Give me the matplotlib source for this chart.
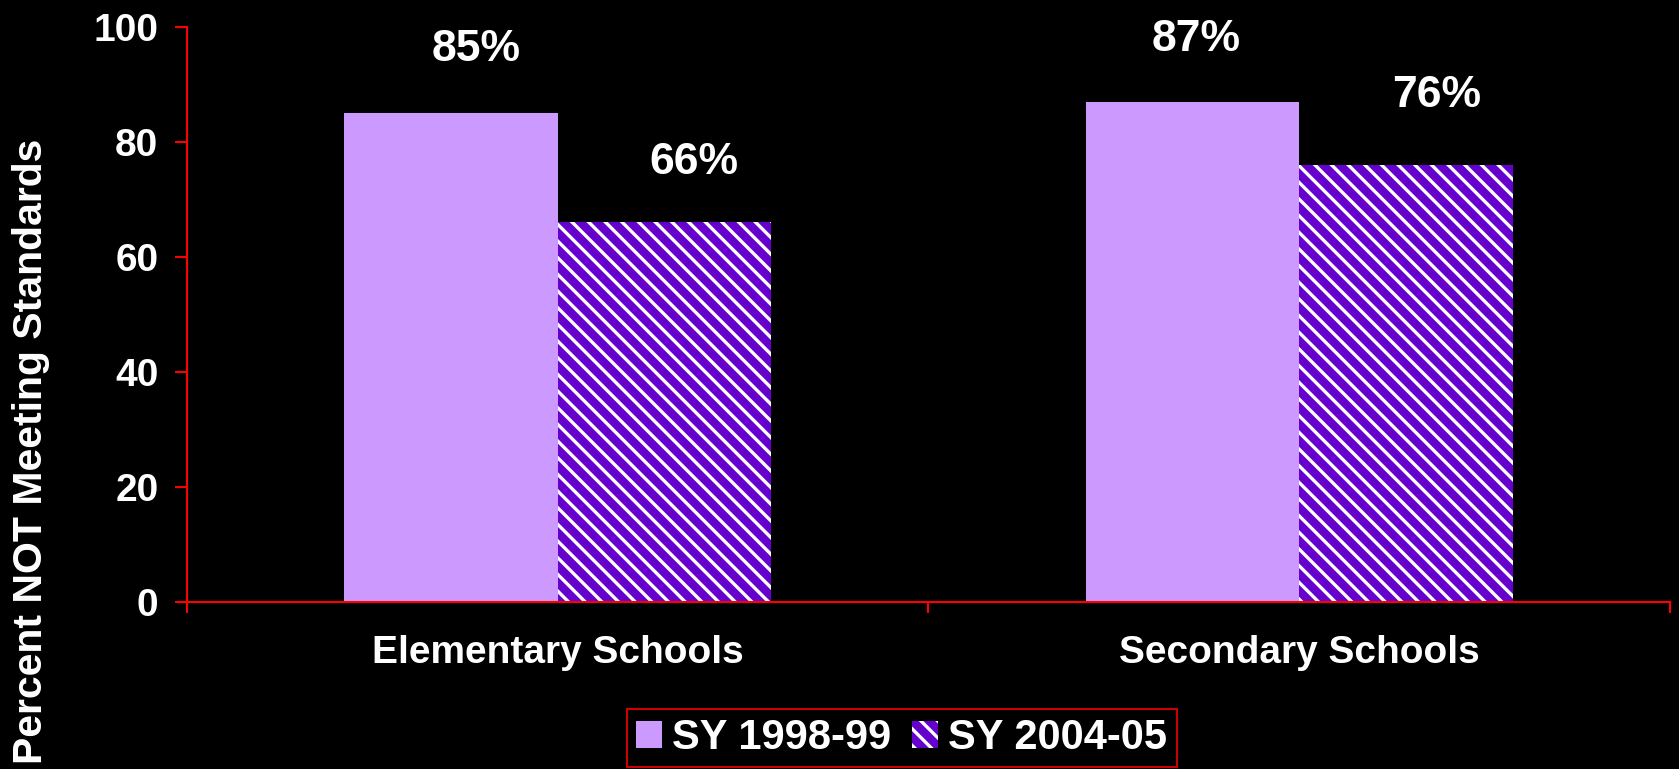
import matplotlib.pyplot as plt
import numpy as np

categories = ['Elementary Schools', 'Secondary Schools']
series_names = ['SY 1998-99', 'SY 2004-05']
sy_1998 = [85, 87]
sy_2004 = [66, 76]
yticks = [0, 20, 40, 60, 80, 100]

plt.rcParams['font.family'] = ['Liberation Sans', 'DejaVu Sans']
plt.rcParams['font.weight'] = 'bold'
plt.rcParams['hatch.linewidth'] = 2.4

red = '#FF0000'
light = '#CC99FF'
dark = '#6600CC'

fig = plt.figure(figsize=(16.79, 7.69), dpi=100, facecolor='black')
ax = fig.add_axes([0.1114, 0.2172, 0.8832, 0.7477])
ax.set_facecolor('black')

x = np.arange(len(categories))
w = 0.288
b1 = ax.bar(x - w / 2, sy_1998, w, color=light, linewidth=0, label=series_names[0])
b2 = ax.bar(x + w / 2, sy_2004, w, color=dark, edgecolor='white', linewidth=0,
            hatch='\\\\', label=series_names[1])

# value labels, offsets
offs = [[(18, 46), (21, 43)], [(3, 45), (22, 50)]]
for i in range(len(categories)):
    for j, (bars, vals) in enumerate([(b1, sy_1998), (b2, sy_2004)]):
        r = bars[i]
        ax.annotate('{}%'.format(vals[i]),
                    xy=(r.get_x() + r.get_width() / 2, vals[i]),
                    xytext=offs[i][j], textcoords='offset points',
                    ha='center', va='center', color='white',
                    fontsize=32, fontweight='bold')

ax.set_xlim(-0.5, len(categories) - 0.5)
ax.set_ylim(0, 100)
ax.set_yticks(yticks)
ax.tick_params(axis='y', colors=red, labelcolor='white', labelsize=28,
               length=8.6, width=1.5, pad=12)
ax.set_xticks(x)
ax.set_xticklabels(categories)
ax.tick_params(axis='x', which='major', length=0, labelcolor='white',
               labelsize=28, pad=24)
ax.set_xticks(np.arange(len(categories) + 1) - 0.5, minor=True)
ax.tick_params(axis='x', which='minor', colors=red, length=8, width=1.5)

for s in ['top', 'right']:
    ax.spines[s].set_visible(False)
for s in ['left', 'bottom']:
    ax.spines[s].set_color(red)
    ax.spines[s].set_linewidth(1.5)

ax.set_ylabel('Percent NOT Meeting Standards', color='white', fontsize=29.5,
              fontweight='bold', va='center')
ax.yaxis.set_label_coords(31 / 1679, 0.413, transform=fig.transFigure)

leg = fig.legend(loc='center', bbox_to_anchor=(0.537, 0.04), ncol=2,
                 fontsize=30, frameon=True, fancybox=False,
                 handlelength=0.62, handleheight=0.62, handletextpad=0.25,
                 columnspacing=0.5, borderpad=0.22, borderaxespad=0)
leg.get_frame().set_facecolor('black')
leg.get_frame().set_edgecolor(red)
leg.get_frame().set_linewidth(1.5)
for t in leg.get_texts():
    t.set_color('white')

fig.savefig('out.png', dpi=100, facecolor='black')
